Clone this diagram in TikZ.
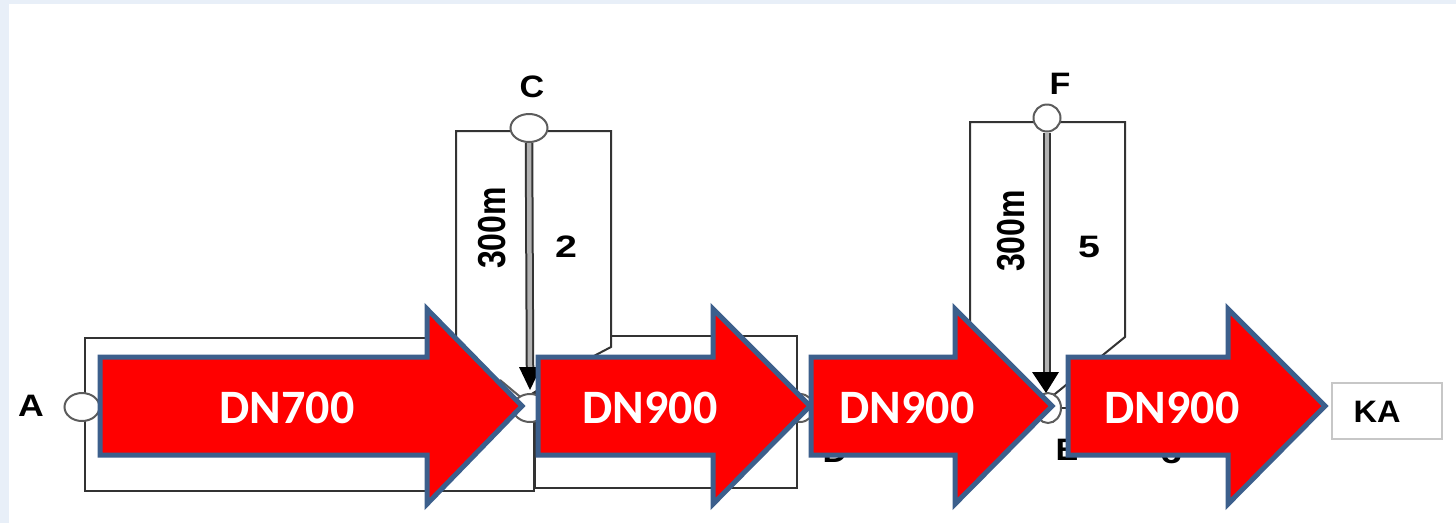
\documentclass[tikz,border=0pt]{standalone}
\usepackage{fontspec}
\usepackage{graphicx}
\setmainfont{Liberation Sans}
\newfontfamily\calib{Carlito}
\usetikzlibrary{shapes.geometric}
\definecolor{bandblue}{HTML}{E8EFF8}
\definecolor{edgeblue}{HTML}{3C5F8C}
\definecolor{linegray}{HTML}{333333}
\newcommand{\widelbl}[1]{\scalebox{1.1}[1]{#1}}
\newcommand{\widenum}[1]{\scalebox{1.27}[1]{#1}}
\tikzset{
  x=1pt,y=-1pt,
  boxline/.style={draw=linegray,line width=2pt,line join=miter},
  junction/.style={ellipse,draw=linegray!80,line width=2pt,fill=white,inner sep=0pt},
  lbl/.style={font=\bfseries\fontsize{31}{31}\selectfont,text=black,inner sep=0pt},
  side/.style={font=\fontsize{39}{39}\selectfont\bfseries,text=black,inner sep=0pt},
  bigarrow/.style={fill=red,draw=edgeblue,line width=5pt,line join=miter,miter limit=10},
  dn/.style={font=\calib\bfseries\fontsize{48}{48}\selectfont,text=white,inner sep=0pt},
  flow/.style={draw=linegray,line width=8.5pt},
  flowin/.style={draw=black!30,line width=4.5pt},
}
\begin{document}
\begin{tikzpicture}
\useasboundingbox (0,0) rectangle (1456,523);
\fill[bandblue] (0,0) rectangle (1456,523);
\fill[white] (9,4) rectangle (1456,523);
% boxes
\draw[boxline] (85,338) rectangle (534,491);
\draw[boxline] (535,336) rectangle (797,488);
\fill[white] (456,350) -- (456,131) -- (611,131) -- (611,347) -- (590,358) -- (530,395) -- (500,362) -- cycle;
\draw[boxline] (456,350) -- (456,131) -- (611,131) -- (611,347) -- (590,358) -- (530,395);
\draw[linegray!80,line width=2pt] (500,380) -- (524,400);
\draw[boxline] (970,330) -- (970,122) -- (1125,122) -- (1125,337) -- (1050,398);
% junctions
\node[junction,minimum width=35pt,minimum height=28pt] (A) at (82,407) {};
\node[junction,minimum width=37pt,minimum height=28pt] (C) at (529,128) {};
\node[junction,minimum width=27pt,minimum height=27pt] (F) at (1047,118) {};
\node[junction,minimum width=34pt,minimum height=28pt] (B) at (530,408) {};
\node[junction,minimum width=28pt,minimum height=28pt] (D) at (800,408) {};
\node[junction,minimum width=26pt,minimum height=30pt] (E) at (1048,408) {};
% pipes with arrows
\coordinate (ct) at (530,367);
\coordinate (ft) at (1047,372);
\draw[flow] (C.south) -- (ct);
\draw[flowin] (C.south) -- (ct);
\draw[flow] (F.south) -- (ft);
\draw[flowin] (F.south) -- (ft);
\fill[black] (519,367) -- (541,367) -- (530,390) -- cycle;
\fill[black] (1032,372) -- (1059,372) -- (1046,393) -- cycle;
\draw[linegray,line width=2pt] (E.east) -- (1070,408);
% labels
\node[lbl] (la) at (31,406) {\scalebox{1.15}[1]{A}};
\node[lbl] (lc) at (532,87) {\widelbl{C}};
\node[lbl] (lf) at (1060,84) {\widelbl{F}};
\node[lbl] (ld) at (835,452) {\widelbl{D}};
\node[lbl] (le) at (1067,450) {\widelbl{E}};
\node[lbl] (l6) at (1171,453) {\widenum{6}};
\node[side,rotate=90] (m1) at (492,228) {\scalebox{.82}[1]{300m}};
\node[side,rotate=90] (m2) at (1011,231) {\scalebox{.82}[1]{300m}};
\node[lbl] (n2) at (566,247) {\widenum{2}};
\node[lbl] (n5) at (1089,247) {\widenum{5}};
% KA
\node[draw=black!22,line width=2pt,fill=white,minimum width=110pt,minimum height=56pt,inner sep=0pt] (KA) at (1386.5,410.5) {};
\node[lbl] (ka) at (1377,412) {\scalebox{1.05}[1]{KA}};
% arrows
\draw[bigarrow] (100,357) -- (427,357) -- (427,309) -- (522,406) -- (427,504) -- (427,455) -- (100,455) -- cycle;
\draw[bigarrow] (538,357) -- (713,357) -- (713,309) -- (810,406) -- (713,504) -- (713,455) -- (538,455) -- cycle;
\draw[bigarrow] (811,357) -- (955,357) -- (955,309) -- (1052,406) -- (955,504) -- (955,455) -- (811,455) -- cycle;
\draw[bigarrow] (1068,357) -- (1228,357) -- (1228,309) -- (1325,406) -- (1228,504) -- (1228,455) -- (1068,455) -- cycle;
\node[dn] (d1) at (287,408) {DN700};
\node[dn] (d2) at (650,408) {DN900};
\node[dn] (d3) at (907,408) {DN900};
\node[dn] (d4) at (1172,408) {DN900};
\end{tikzpicture}
\end{document}
